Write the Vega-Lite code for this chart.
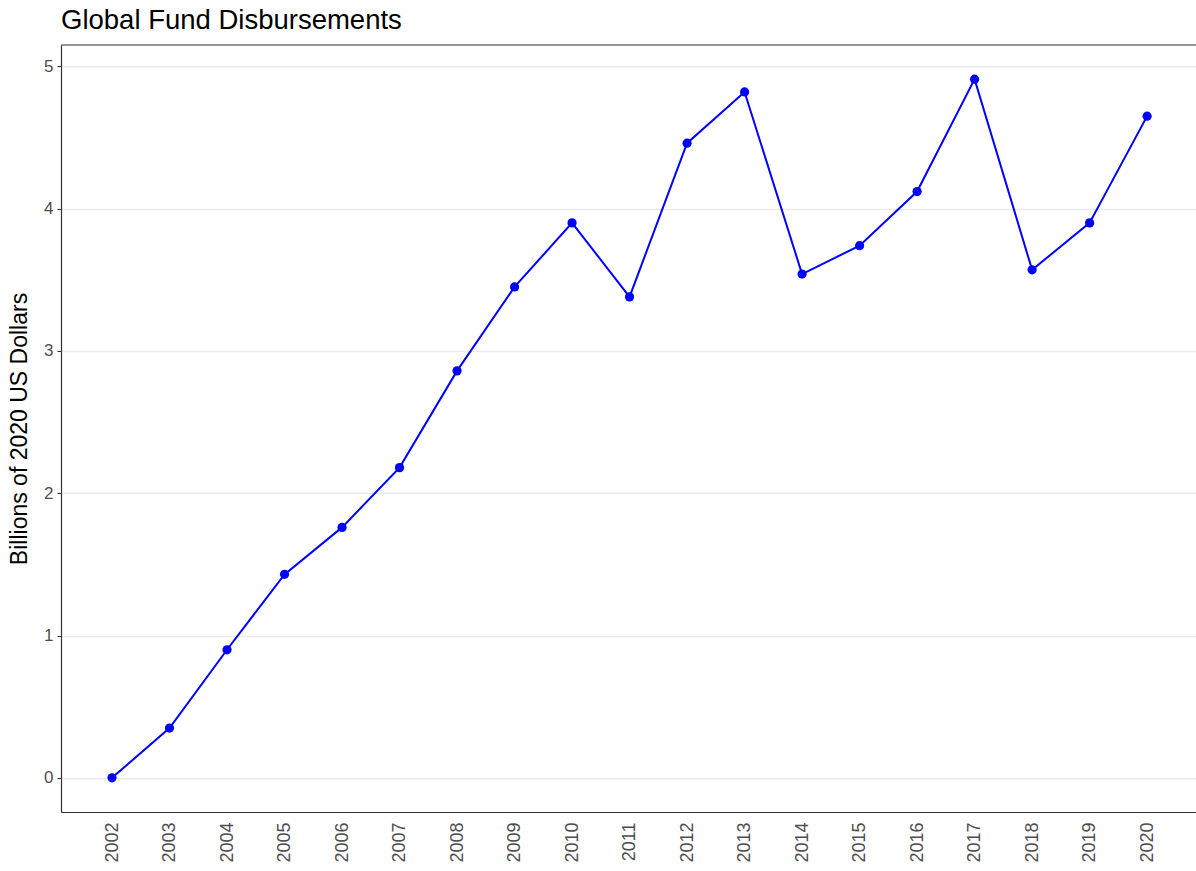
{
  "$schema": "https://vega.github.io/schema/vega-lite/v6.json",
  "width": 1135,
  "height": 767,
  "autosize": {"type": "none"},
  "padding": {"left": 61, "top": 45, "right": 0, "bottom": 59},
  "background": "white",
  "config": {
    "view": {"stroke": null},
    "font": "Liberation Sans"
  },
  "title": {
    "text": "Global Fund Disbursements",
    "anchor": "start",
    "frame": "group",
    "fontSize": 27.5,
    "fontWeight": "normal",
    "color": "black",
    "font": "Liberation Sans",
    "offset": 10
  },
  "data": {
    "values": [
      {"year": 2002, "value": 0.0},
      {"year": 2003, "value": 0.35},
      {"year": 2004, "value": 0.90},
      {"year": 2005, "value": 1.43},
      {"year": 2006, "value": 1.76},
      {"year": 2007, "value": 2.18},
      {"year": 2008, "value": 2.86},
      {"year": 2009, "value": 3.45},
      {"year": 2010, "value": 3.90},
      {"year": 2011, "value": 3.38},
      {"year": 2012, "value": 4.46},
      {"year": 2013, "value": 4.82},
      {"year": 2014, "value": 3.54},
      {"year": 2015, "value": 3.74},
      {"year": 2016, "value": 4.12},
      {"year": 2017, "value": 4.91},
      {"year": 2018, "value": 3.57},
      {"year": 2019, "value": 3.90},
      {"year": 2020, "value": 4.65}
    ]
  },
  "encoding": {
    "x": {
      "field": "year",
      "type": "quantitative",
      "scale": {"domain": [2001.113, 2020.85], "nice": false, "zero": false},
      "axis": {
        "values": [2002,2003,2004,2005,2006,2007,2008,2009,2010,2011,2012,2013,2014,2015,2016,2017,2018,2019,2020],
        "format": "d",
        "title": null,
        "grid": false,
        "labelAngle": -90,
        "labelAlign": "right",
        "labelBaseline": "middle",
        "labelFontSize": 18,
        "labelColor": "#4d4d4d",
        "labelPadding": 10,
        "ticks": false,
        "domainColor": "#333333",
        "domainWidth": 1.2,
        "labelFlush": false,
        "labelOverlap": false
      }
    },
    "y": {
      "field": "value",
      "type": "quantitative",
      "scale": {"domain": [-0.24, 5.15], "nice": false, "zero": false},
      "axis": {
        "values": [0, 1, 2, 3, 4, 5],
        "title": "Billions of 2020 US Dollars",
        "titleFontSize": 23,
        "titleFontWeight": "normal",
        "titleColor": "black",
        "titlePadding": 12,
        "labelFontSize": 17,
        "labelColor": "#4d4d4d",
        "labelPadding": 4,
        "tickSize": 4,
        "tickColor": "#333333",
        "domainColor": "#333333",
        "domainWidth": 1.2,
        "grid": true,
        "gridColor": "#ebebeb",
        "gridWidth": 1.5,
        "labelFlush": false
      }
    }
  },
  "layer": [
    {
      "mark": {"type": "line", "color": "#0000ff", "strokeWidth": 2}
    },
    {
      "mark": {"type": "point", "filled": true, "color": "#0000ff", "size": 85, "opacity": 1}
    },
    {
      "mark": {"type": "rule", "color": "#333333", "strokeWidth": 1.2},
      "data": {"values": [{"top": 5.15}]},
      "encoding": {
        "y": {"field": "top", "type": "quantitative"},
        "x": {"value": 0},
        "x2": {"value": 1135}
      }
    }
  ]
}
